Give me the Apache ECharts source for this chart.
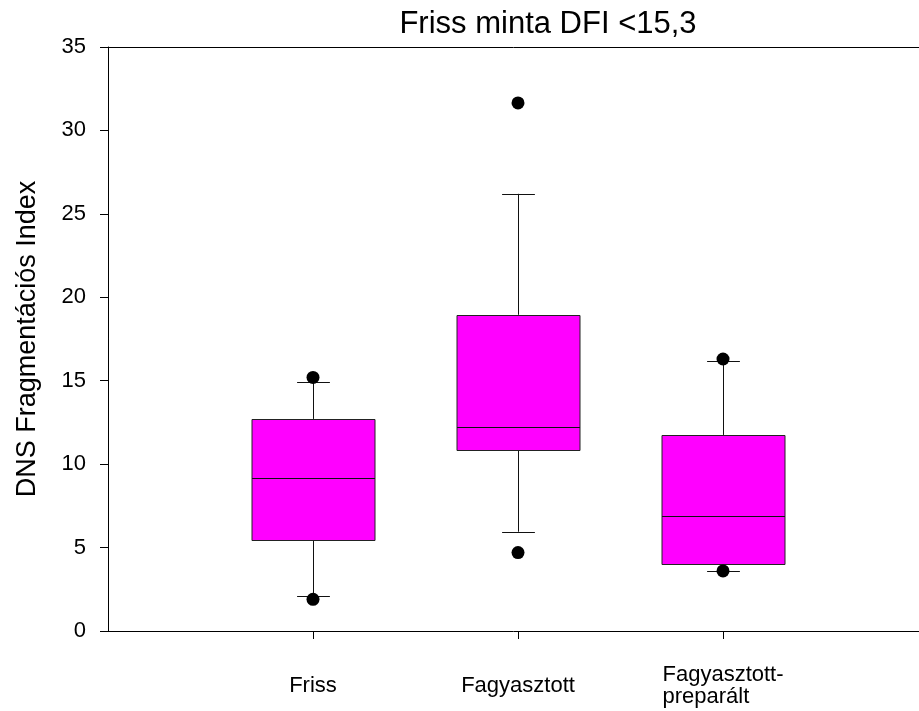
<!DOCTYPE html>
<html><head><meta charset="utf-8">
<script src="https://cdn.jsdelivr.net/npm/echarts@6/dist/echarts.min.js"></script>
<style>html,body{margin:0;padding:0;background:#fff}#c{width:919px;height:711px}</style>
</head><body><div id="c"></div>
<script>
const categories = ['Friss', 'Fagyasztott', 'Fagyasztott-preparált'];
const positions = [1, 2, 3];
const lowerWhisker = [2.1, 5.95, 3.6];
const q1 = [5.45, 10.85, 4.0];
const median = [9.18, 12.25, 6.9];
const q3 = [12.71, 18.95, 11.75];
const upperWhisker = [14.9, 26.2, 16.2];
const outliers = [[1, 15.2], [1, 1.9], [2, 31.65], [2, 4.7], [3, 16.3], [3, 3.6]];
const yTicks = [0, 5, 10, 15, 20, 25, 30, 35];

const boxData = positions.map((p, i) => [p, lowerWhisker[i], q1[i], median[i], q3[i], upperWhisker[i]]);

const chart = echarts.init(document.getElementById('c'), null, {renderer: 'canvas'});
const font = 'Liberation Sans, Arial, sans-serif';

function renderBox(params, api) {
  const x = api.value(0);
  const lw = api.coord([x, api.value(1)]);
  const b1 = api.coord([x, api.value(2)]);
  const md = api.coord([x, api.value(3)]);
  const b3 = api.coord([x, api.value(4)]);
  const uw = api.coord([x, api.value(5)]);
  const half = api.size([0.3, 0])[0];
  const cap = api.size([0.08, 0])[0];
  const cx = Math.round(lw[0]) + 0.5;
  const ls = {stroke: '#111', lineWidth: 1};
  return {
    type: 'group',
    children: [
      {type: 'line', shape: {x1: cx, y1: b3[1], x2: cx, y2: uw[1]}, style: ls},
      {type: 'line', shape: {x1: cx, y1: b1[1], x2: cx, y2: lw[1]}, style: ls},
      {type: 'line', shape: {x1: cx - cap, y1: Math.round(uw[1]) + 0.5, x2: cx + cap, y2: Math.round(uw[1]) + 0.5}, style: ls},
      {type: 'line', shape: {x1: cx - cap, y1: Math.round(lw[1]) + 0.5, x2: cx + cap, y2: Math.round(lw[1]) + 0.5}, style: ls},
      {type: 'rect', shape: {x: Math.round(cx - half), y: Math.round(b3[1]) + 0.5, width: Math.round(2 * half), height: Math.round(b1[1] - b3[1])},
       style: {fill: '#FF00FF', stroke: '#222', lineWidth: 1}},
      {type: 'line', shape: {x1: Math.round(cx - half), y1: Math.round(md[1]) + 0.5, x2: Math.round(cx + half), y2: Math.round(md[1]) + 0.5}, style: ls}
    ]
  };
}

const option = {
  animation: false,
  backgroundColor: '#fff',
  title: {
    text: 'Friss minta DFI <15,3',
    left: 543, top: 4, textAlign: 'center',
    textStyle: {fontFamily: font, fontSize: 31, fontWeight: 'normal', color: '#000'}
  },
  grid: {left: 108, right: 0, top: 47, bottom: 80, containLabel: false},
  xAxis: [{
    type: 'value', min: 0, max: 3.956,
    splitLine: {show: false},
    axisLine: {show: true, onZero: false, lineStyle: {color: '#000', width: 1}},
    axisTick: {show: true, length: 8, lineStyle: {color: '#000'}, customValues: positions},
    axisLabel: {
      customValues: positions,
      margin: 55, verticalAlign: 'middle', color: '#000', fontFamily: font, fontSize: 22,
      formatter: function (v) {
        const i = positions.indexOf(v);
        if (i < 0) return '';
        const name = categories[i];
        if (name.indexOf('-') > 0) {
          const parts = name.split('-');
          return '{l|' + parts[0] + '-}\n{l|' + parts[1] + '}';
        }
        return name;
      },
      rich: {l: {width: 121, align: 'left', fontFamily: font, fontSize: 22, color: '#000', lineHeight: 22}}
    }
  }, {
    type: 'value', min: 0, max: 3.956, position: 'top',
    splitLine: {show: false},
    axisLine: {show: true, onZero: false, lineStyle: {color: '#000', width: 1}},
    axisTick: {show: false}, axisLabel: {show: false}
  }],
  yAxis: {
    type: 'value', min: 0, max: 35, interval: 5,
    name: 'DNS Fragmentációs Index', nameLocation: 'middle', nameGap: 67, nameRotate: 90,
    nameTextStyle: {fontFamily: font, fontSize: 27, color: '#000'},
    splitLine: {show: false},
    axisLine: {show: true, lineStyle: {color: '#000', width: 1}},
    axisTick: {show: true, length: 8, lineStyle: {color: '#000'}},
    axisLabel: {margin: 22, color: '#000', fontFamily: font, fontSize: 22,
      formatter: v => (yTicks.indexOf(v) >= 0 ? String(v) : '')}
  },
  series: [{
    type: 'custom', renderItem: renderBox, data: boxData,
    encode: {x: 0, y: [1, 2, 3, 4, 5]}, z: 2, clip: false
  }, {
    type: 'scatter', data: outliers, symbol: 'circle', symbolSize: 13,
    itemStyle: {color: '#000', opacity: 1}, z: 5
  }]
};
chart.setOption(option);
</script></body></html>
